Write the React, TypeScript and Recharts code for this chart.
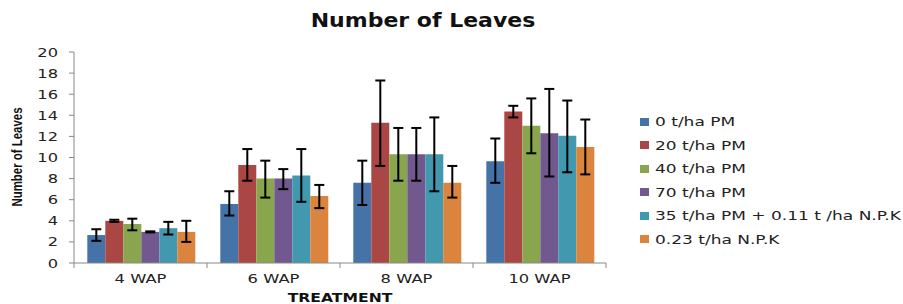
import React from 'react';
import { BarChart, Bar, XAxis, YAxis, Legend, ErrorBar } from 'recharts';

const categories = ['4 WAP', '6 WAP', '8 WAP', '10 WAP'];

const seriesNames = [
    '0 t/ha PM',
    '20 t/ha PM',
    '40 t/ha PM',
    '70 t/ha PM',
    '35 t/ha PM + 0.11 t /ha N.P.K',
    '0.23 t/ha N.P.K',
];

const colors = ['#4572A7', '#AA4643', '#89A54E', '#71588F', '#4198AF', '#DB843D'];

// mean values per series, in category order
const pm0 = [2.65, 5.6, 7.6, 9.65];
const pm20 = [4.0, 9.3, 13.3, 14.35];
const pm40 = [3.7, 8.0, 10.3, 13.0];
const pm70 = [2.95, 8.0, 10.3, 12.3];
const pm35npk = [3.3, 8.3, 10.3, 12.05];
const npk = [2.95, 6.35, 7.6, 11.0];

// error bar lower / upper ends
const low = [
    [2.1, 4.5, 5.5, 7.6],
    [3.9, 7.8, 9.2, 13.8],
    [3.1, 6.2, 7.8, 10.4],
    [2.9, 7.0, 7.8, 8.2],
    [2.7, 5.8, 6.8, 8.6],
    [2.0, 5.2, 6.2, 8.4],
];
const high = [
    [3.2, 6.8, 9.7, 11.8],
    [4.1, 10.8, 17.3, 14.9],
    [4.2, 9.7, 12.8, 15.6],
    [3.0, 8.9, 12.8, 16.5],
    [3.9, 10.8, 13.8, 15.4],
    [4.0, 7.4, 9.2, 13.6],
];

const yTicks = [0, 2, 4, 6, 8, 10, 12, 14, 16, 18, 20];

const means = [pm0, pm20, pm40, pm70, pm35npk, npk];

const data = categories.map((cat, i) => {
    const row: any = { name: cat };
    means.forEach((m, s) => {
        row['s' + s] = m[i];
        row['e' + s] = [m[i] - low[s][i], high[s][i] - m[i]];
    });
    return row;
});

const FONT = '"DejaVu Sans", Verdana, sans-serif';
const STRETCH = 1.36;
const PLOT_LEFT = 74;
const PLOT_RIGHT = 606;
const PLOT_BOTTOM = 263;
const BAND = (PLOT_RIGHT - PLOT_LEFT) / categories.length;
const LEGEND_W = 263;

const XTick = (props: any) => {
    const { x, payload, index } = props;
    return (
        <g>
            <line x1={x - BAND / 2} x2={x - BAND / 2} y1={PLOT_BOTTOM} y2={PLOT_BOTTOM + 5} stroke="#888" />
            {index === categories.length - 1 && (
                <line x1={x + BAND / 2} x2={x + BAND / 2} y1={PLOT_BOTTOM} y2={PLOT_BOTTOM + 5} stroke="#888" />
            )}
            <text
                transform={`translate(${x},${PLOT_BOTTOM + 20}) scale(${STRETCH},1)`}
                textAnchor="middle"
                fill="#222"
                fontSize={12}
                fontFamily={FONT}>
                {payload.value}
            </text>
        </g>
    );
};

const YTick = (props: any) => {
    const { x, y, payload } = props;
    return (
        <text
            transform={`translate(${x - 9},${y + 4.5}) scale(1.3,1)`}
            textAnchor="end"
            fill="#222"
            fontSize={12.5}
            fontFamily={FONT}>
            {payload.value}
        </text>
    );
};

const LegendContent = (props: any) => {
    const items = [...props.payload].sort(
        (a: any, b: any) => seriesNames.indexOf(a.value) - seriesNames.indexOf(b.value)
    );
    return (
        <div style={{ fontFamily: FONT, fontSize: 12.5, color: '#222', width: LEGEND_W }}>
            {items.map((p: any) => (
                <div key={p.value} style={{ display: 'flex', alignItems: 'center', height: 23.5, whiteSpace: 'nowrap' }}>
                    <span style={{ width: 9, height: 8, background: p.color, marginRight: 6, display: 'inline-block' }} />
                    <span style={{ display: 'inline-block', transform: `scaleX(${STRETCH})`, transformOrigin: 'left center' }}>
                        {p.value}
                    </span>
                </div>
            ))}
        </div>
    );
};

const App = () => {
    return (
        <div style={{ position: 'absolute', left: 0, top: 0, width: 903, height: 304, background: '#fff' }}>
            <div
                style={{
                    position: 'absolute',
                    left: 0,
                    width: 846,
                    top: 8,
                    textAlign: 'center',
                    fontFamily: FONT,
                    fontWeight: 'bold',
                    fontSize: 20,
                    color: '#111',
                    transform: 'scaleX(1.1)',
                    transformOrigin: '423px 0',
                }}>
                Number of Leaves
            </div>
            <BarChart
                width={903}
                height={304}
                data={data}
                margin={{ top: 52, right: 903 - PLOT_RIGHT - LEGEND_W, left: 0, bottom: 0 }}
                barCategoryGap="10%"
                barGap={0}>
                <XAxis
                    dataKey="name"
                    height={304 - PLOT_BOTTOM}
                    stroke="#888"
                    tickLine={false}
                    tick={<XTick />}
                    interval={0}
                    label={{
                        content: () => (
                            <text
                                transform={`translate(${(PLOT_LEFT + PLOT_RIGHT) / 2},302) scale(1.3,1)`}
                                textAnchor="middle"
                                fill="#111"
                                fontSize={12}
                                fontWeight="bold"
                                fontFamily={FONT}>
                                TREATMENT
                            </text>
                        ),
                    }}
                />
                <YAxis
                    width={PLOT_LEFT}
                    domain={[0, 20]}
                    ticks={yTicks}
                    interval={0}
                    stroke="#888"
                    tickSize={5}
                    tick={<YTick />}
                    label={{
                        content: () => (
                            <text
                                transform="translate(22,157) rotate(-90)"
                                textAnchor="middle"
                                fill="#111"
                                fontSize={14.5}
                                fontWeight="bold"
                                textLength={99}
                                lengthAdjust="spacingAndGlyphs"
                                fontFamily='"Liberation Sans Narrow", "Liberation Sans", Arial, sans-serif'>
                                Number of Leaves
                            </text>
                        ),
                    }}
                />
                <Legend
                    layout="vertical"
                    align="right"
                    verticalAlign="top"
                    content={<LegendContent />}
                    wrapperStyle={{ left: 640, top: 110, width: LEGEND_W }}
                />
                {seriesNames.map((n, s) => (
                    <Bar key={n} dataKey={'s' + s} name={n} fill={colors[s]} isAnimationActive={false}>
                        <ErrorBar dataKey={'e' + s} direction="y" width={5} stroke="#000" strokeWidth={2} />
                    </Bar>
                ))}
            </BarChart>
        </div>
    );
};

export default App;
